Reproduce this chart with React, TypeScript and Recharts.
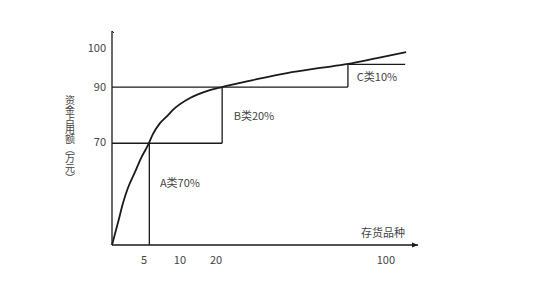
import React from "react";
import {
  LineChart,
  Line,
  XAxis,
  YAxis,
  ReferenceLine,
  ReferenceDot,
} from "recharts";

// schematic ABC curve, both axes in position units 0-100
const curveX = [0, 2.0, 3.6, 5.2, 7.5, 9.5, 11.8, 13.4, 15.7, 18.0, 19.9, 25.5, 31.0, 35.9, 46.1, 57.2, 68.0, 77.1, 86.6, 96.1];
const curveY = [0, 10.8, 19.8, 26.9, 34.4, 41.0, 47.2, 52.4, 57.5, 60.8, 63.7, 69.3, 72.6, 74.5, 77.8, 81.1, 83.5, 85.4, 88.2, 91.0];

// class boundaries: A, B, C
const classX = [12.2, 36.0, 77.1];
const classY = [48.0, 74.5, 85.2];
const cLineEnd = 95.8;

const xTicks = [10.5, 22.2, 34.0, 89.5];
const xTickLabels = ["5", "10", "20", "100"];
const yTicks = [48.6, 74.5, 92.9];
const yTickLabels = ["70", "90", "100"];

const classLabels = ["A类70%", "B类20%", "C类10%"];
const classLabelX = [22.2, 46.4, 86.6];
const classLabelY = [29.2, 60.8, 79.2];

const xTitle = "存货品种";
const yTitle = "资金占用额（万元）";

const data = curveX.map((x, i) => ({ x, y: curveY[i] }));

const FONT = "'Noto Sans CJK SC', 'Noto Sans', sans-serif";
const INK = "#1a1a1a";
const TEXT = "#444";

const labelOf = (ticks: number[], labels: string[]) => (v: number) => {
  const i = ticks.indexOf(v);
  return i >= 0 ? labels[i] : "";
};

function XAxisDecor(props: any) {
  const { x, y, width } = props.viewBox;
  const ex = x + width;
  return (
    <g>
      <polygon points={`${ex},${y} ${ex - 6},${y - 2.5} ${ex - 6},${y + 2.5}`} fill={INK} />
      <text
        x={ex - 35}
        y={y - 13}
        textAnchor="middle"
        dominantBaseline="central"
        fontSize={11}
        fontFamily={FONT}
        fill={TEXT}
      >
        {xTitle}
      </text>
    </g>
  );
}

function YAxisDecor(props: any) {
  const { x, y, width } = props.viewBox;
  const ax = x + width;
  return (
    <g>
      <line x1={ax} y1={y} x2={ax} y2={y - 2} stroke={INK} strokeWidth={1.3} />
      <line x1={ax} y1={y - 2} x2={ax + 2} y2={y} stroke={INK} strokeWidth={1} />
      <text
        x={70}
        y={139}
        textAnchor="middle"
        fontSize={10}
        fontFamily={FONT}
        fill={TEXT}
        letterSpacing={-0.3}
        style={{ writingMode: "vertical-rl", textOrientation: "upright" } as any}
      >
        {yTitle}
      </text>
    </g>
  );
}

export default function App() {
  const seg = { stroke: INK, strokeWidth: 1.3, ifOverflow: "visible" as const };
  return (
    <div style={{ position: "absolute", left: 0, top: 0, background: "#fff" }}>
      <LineChart
        width={534}
        height={291}
        data={data}
        margin={{ top: 33, right: 116, bottom: 16, left: 52 }}
      >
        <XAxis
          dataKey="x"
          type="number"
          domain={[0, 100]}
          ticks={xTicks}
          tickFormatter={labelOf(xTicks, xTickLabels)}
          tickLine={false}
          tickSize={6}
          tickMargin={5}
          height={30}
          axisLine={{ stroke: INK, strokeWidth: 1.3 }}
          tick={{ fill: TEXT, fontSize: 11, fontFamily: FONT }}
          label={{ content: XAxisDecor }}
        />
        <YAxis
          type="number"
          domain={[0, 100]}
          ticks={yTicks}
          tickFormatter={labelOf(yTicks, yTickLabels)}
          tickLine={false}
          tickSize={4}
          tickMargin={2}
          width={60}
          axisLine={{ stroke: INK, strokeWidth: 1.3 }}
          tick={{ fill: TEXT, fontSize: 11, fontFamily: FONT }}
          label={{ content: YAxisDecor }}
        />
        <ReferenceLine segment={[{ x: 0, y: classY[0] }, { x: classX[1], y: classY[0] }]} {...seg} />
        <ReferenceLine segment={[{ x: classX[0], y: 0 }, { x: classX[0], y: classY[0] }]} {...seg} />
        <ReferenceLine segment={[{ x: classX[1], y: classY[0] }, { x: classX[1], y: classY[1] }]} {...seg} />
        <ReferenceLine segment={[{ x: 0, y: classY[1] }, { x: classX[2], y: classY[1] }]} {...seg} />
        <ReferenceLine segment={[{ x: classX[2], y: classY[1] }, { x: classX[2], y: classY[2] }]} {...seg} />
        <ReferenceLine segment={[{ x: classX[2], y: classY[2] }, { x: cLineEnd, y: classY[2] }]} {...seg} />
        {classLabels.map((t, i) => (
          <ReferenceDot
            key={t}
            x={classLabelX[i]}
            y={classLabelY[i]}
            r={0}
            fill="none"
            stroke="none"
            label={{ value: t, position: "center", fontSize: 11, fontFamily: FONT, fill: TEXT }}
          />
        ))}
        <Line
          dataKey="y"
          type="monotone"
          stroke={INK}
          strokeWidth={1.8}
          dot={false}
          activeDot={false}
          isAnimationActive={false}
        />
      </LineChart>
    </div>
  );
}
